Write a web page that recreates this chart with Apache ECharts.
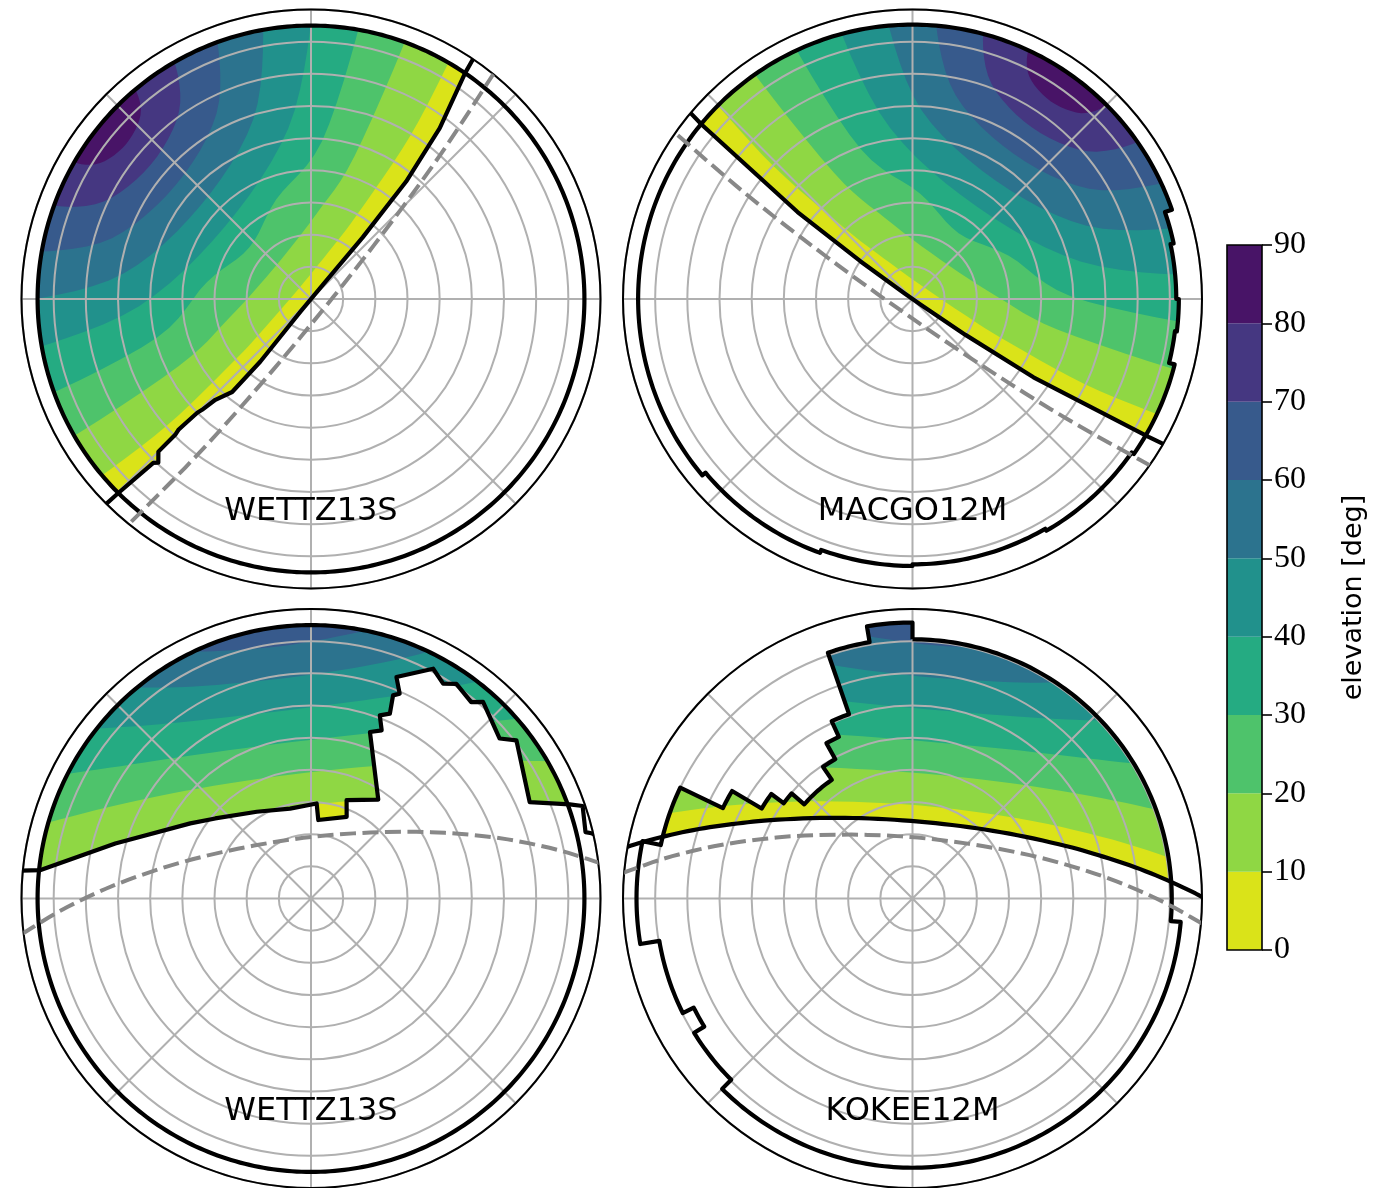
<!DOCTYPE html>
<html>
<head>
<meta charset="utf-8">
<title>Common visibility sky plots</title>
<script src="https://cdn.jsdelivr.net/npm/echarts@6/dist/echarts.min.js"></script>
<style>
html,body{margin:0;padding:0;background:#fff;}
#chart{width:1395px;height:1188px;}
</style>
</head>
<body>
<div id="chart"></div>
<script>
// ---------------- levels / colours (elevation at the partner station, deg) ----------------
const levels = [0, 10, 20, 30, 40, 50, 60, 70, 80, 90];
const levelColors = ['#dae319','#8fd744','#4ec36b','#25ab82','#21918c','#2c738e','#375a8c','#453781','#481467'];
const colorbarTicks = [0, 10, 20, 30, 40, 50, 60, 70, 80, 90];
const stationNames = ['WETTZ13S', 'MACGO12M', 'WETTZ13S', 'KOKEE12M'];

// All points below are [azimuth (deg, clockwise from N), zenith distance (deg)]

// ---------------- panel TL : WETTZ13S sky, partner MACGO12M ----------------
const ownMaskTL = [[0,85],[360,85]];
const edgeTL = [[34,90.5],[34.3,85],[37,66.5],[39,47],[40,25],[40,6],[220,5],[219,25],[220.3,37.9],[223.5,43.2],[224.5,48.3],[225,50],[225.4,57.9],[225,59.7],[225,67.1],[223,69.6],[223.9,70.7],[224.8,85],[225,90.5]];
const dashTL = [[39,90.5],[41.9,60.1],[47.6,30.4],[129,5],[210.4,30.4],[216.1,60.1],[219,90.5]];
const regionTL = [[34.3,85],[37,66.5],[39,47],[40,25],[40,6],[220,5],[219,25],[220.3,37.9],[223.5,43.2],[224.5,48.3],[225,50],[225.4,57.9],[225,59.7],[225,67.1],[223,69.6],[223.9,70.7],[224.8,85],[394.3,85]];
const contoursTL = {
  10: [[389.6,94],[390,89.1],[391.3,59.6],[388.7,30.1],[380.5,15.7],[310,5],[239.5,15.7],[231.3,30.1],[228.7,59.6],[230,89.1],[230.4,94]],
  20: [[379,97.6],[380.1,88.3],[376.9,46.2],[363.6,26.5],[310,15],[256.4,26.5],[243.1,46.2],[239.9,88.3],[241,97.6]],
  30: [[369.1,96.1],[370.1,87.5],[364,49.2],[340.8,32.8],[310,25],[279.2,32.8],[256,49.2],[249.9,87.5],[250.9,96.1]],
  40: [[359.2,94.4],[360.1,86.8],[352.4,53.5],[310,35],[267.6,53.5],[259.9,86.8],[260.8,94.4]],
  50: [[349.3,92.5],[350.1,86.2],[342.2,58.7],[310,45],[277.8,58.7],[269.9,86.2],[270.7,92.5]],
  60: [[338.9,93.1],[340.1,85.7],[333,64.7],[310,55],[287,64.7],[279.9,85.7],[281.1,93.1]],
  70: [[328.8,92],[330.1,85.3],[324.8,71.2],[310,65],[295.2,71.2],[289.9,85.3],[291.2,92]],
  80: [[318.7,90],[320,85.1],[317.2,78],[310,75],[302.8,78],[300,85.1],[301.3,90]]
};

// ---------------- panel TR : MACGO12M sky, partner WETTZ13S ----------------
const ownMaskTR = [[0,85.3],[71,85.3],[71,83],[78,83],[78,82],[90,82],[90,82.8],[97,82.8],[97,82.2],[104,82.2],[104,84],[125,84],[125,83.2],[150,83.2],[150,82.5],[180,82.5],[180,83],[200,83],[200,84],[230,84],[230,85.3],[360,85.3]];
const edgeTR = [[120,90.5],[120.3,85],[122.9,44.8],[124.1,19.9],[125,3],[305,3.1],[305.9,19.9],[307.1,44.8],[309.6,85],[310,90.5]];
const dashTR = [[125,90.5],[127.9,60.1],[133.6,30.4],[215,5],[296.4,30.4],[302.1,60.1],[305,90.5]];
const regionTR = [[120.3,84],[122.9,44.8],[124.1,19.9],[125,3],[305,3.1],[305.9,19.9],[307.1,44.8],[309.5,85.3],[431,85.3],[431,83],[438,83],[438,82],[450,82],[450,82.8],[457,82.8],[457,82.2],[464,82.2],[464,84],[480.3,84]];
const contoursTR = {
  10: [[114.6,94],[115,89.1],[116.3,59.6],[113.7,30.1],[105.5,15.7],[35,5],[-35.5,15.7],[-43.7,30.1],[-46.3,59.6],[-45,89.1],[-44.6,94]],
  20: [[104,97.6],[105.1,88.3],[101.9,46.2],[88.6,26.5],[35,15],[-18.6,26.5],[-31.9,46.2],[-35.1,88.3],[-34,97.6]],
  30: [[94.1,96.1],[95.1,87.5],[89,49.2],[65.8,32.8],[35,25],[4.2,32.8],[-19,49.2],[-25.1,87.5],[-24.1,96.1]],
  40: [[84.2,94.4],[85.1,86.8],[77.4,53.5],[35,35],[-7.4,53.5],[-15.1,86.8],[-14.2,94.4]],
  50: [[74.3,92.5],[75.1,86.2],[67.2,58.7],[35,45],[2.8,58.7],[-5.1,86.2],[-4.3,92.5]],
  60: [[63.9,93.1],[65.1,85.7],[58,64.7],[35,55],[12,64.7],[4.9,85.7],[6.1,93.1]],
  70: [[53.8,92],[55.1,85.3],[49.8,71.2],[35,65],[20.2,71.2],[14.9,85.3],[16.2,92]],
  80: [[43.7,90],[45,85.1],[42.2,78],[35,75],[27.8,78],[25,85.1],[26.3,90]]
};

// ---------------- panel BL : WETTZ13S sky, partner KOKEE12M ----------------
const ownMaskBL = [[0,85],[360,85]];
const edgeBL = [[275.5,90.5],[276,84.5],[285.7,63.2],[301.9,44.2],[309.9,38.8],[328,31.8],[346.9,28.7],[363.4,29.6],[365.3,24.5],[383.6,27.7],[379.9,32.5],[394.2,37.2],[379.5,54.9],[382.8,56.7],[380.6,60.8],[383.1,62.5],[382,68.1],[383.4,69.4],[381.1,73.8],[388,80.9],[391.6,78.4],[394.1,80.6],[399.2,78.8],[401.2,81.2],[409.7,76.9],[412.4,80.6],[426.2,74.3],[430,85.6],[431.2,89.2],[436.4,87.8],[436.9,89.5],[437.5,91]];
const dashBL = [[443,90.5],[438,75.8],[430.2,57.2],[413.6,35],[353,19],[292.4,35],[275.8,57.2],[268,75.8],[263,90.5]];
const regionBL = [[429.5,85],[426.2,74.3],[412.4,80.6],[409.7,76.9],[401.2,81.2],[399.2,78.8],[394.1,80.6],[391.6,78.4],[388,80.9],[381.1,73.8],[383.4,69.4],[382,68.1],[383.1,62.5],[380.6,60.8],[382.8,56.7],[379.5,54.9],[394.2,37.2],[379.9,32.5],[383.6,27.7],[365.3,24.5],[363.4,29.6],[346.9,28.7],[328,31.8],[309.9,38.8],[301.9,44.2],[285.7,63.2],[276,85],[429.5,85]];
const contoursBL = {
  10: [[433.5,93.2],[431.9,88.6],[428.4,79.4],[419.7,61.5],[401.1,41.4],[353,29],[304.9,41.4],[286.3,61.5],[277.6,79.4],[274.1,88.6],[272.5,93.2]],
  20: [[422.5,92],[419.1,83.2],[410,66.5],[391.6,48.9],[353,39],[314.4,48.9],[296,66.5],[286.9,83.2],[283.5,92]],
  30: [[413,95.2],[409.9,87.2],[401.2,72.1],[384.1,56.9],[353,49],[321.9,56.9],[304.8,72.1],[296.1,87.2],[293,95.2]],
  40: [[402.2,94.8],[399.1,87.8],[390.4,75.2],[377.9,65.3],[353,59],[328.1,65.3],[315.6,75.2],[306.9,87.8],[303.8,94.8]],
  50: [[391.6,95.3],[388.6,89.6],[382.8,81.9],[372.5,73.9],[353,69],[333.5,73.9],[323.2,81.9],[317.4,89.6],[314.4,95.3]],
  60: [[378.7,92.6],[373.7,87],[367.6,82.7],[353,79],[338.4,82.7],[332.3,87],[327.3,92.6]]
};

// ---------------- panel BR : KOKEE12M sky, partner WETTZ13S ----------------
const ownMaskBR = [[0,80.6],[95,80.6],[95,83.7],[225,83.7],[225,79.7],[238.4,79.7],[238.4,76],[243.5,76],[243.5,79.8],[260.5,79.8],[260.5,85.8],[282,85.8],[282,80],[295.5,80],[295.5,65.3],[300.8,65.3],[300.8,54.6],[306.5,54.6],[306.5,49.8],[311,49.8],[311,44.6],[325.8,44.6],[325.8,49.5],[331,49.5],[331,55.2],[335.5,55.2],[335.5,60.6],[341,60.6],[341,80.8],[350.5,80.8],[350.5,85.8],[360,85.8],[360,80.6]];
const edgeBR = [[90.3,91.6],[88.6,86.9],[85.2,77.6],[81.3,68.3],[76.8,59.2],[71.1,50.4],[58.9,38.1],[38.1,28.2],[5,24],[-28.1,28.2],[-48.9,38.1],[-61.1,50.4],[-66.8,59.2],[-71.3,68.3],[-75.2,77.6],[-78.6,86.9],[-80.3,91.6]];
const dashBR = [[95,90.5],[90,75.8],[82.2,57.2],[65.6,35],[5,19],[-55.6,35],[-72.2,57.2],[-80,75.8],[-85,90.5]];
const regionBR = [[86.3,80.6],[85.2,77.6],[81.3,68.3],[76.8,59.2],[71.1,50.4],[58.9,38.1],[38.1,28.2],[5,24],[-28.1,28.2],[-48.9,38.1],[-61.1,50.4],[-66.8,59.2],[-71.3,68.3],[-75.2,77.6],[284.1,80],[295.5,80],[295.5,65.3],[300.8,65.3],[300.8,54.6],[306.5,54.6],[306.5,49.8],[311,49.8],[311,44.6],[325.8,44.6],[325.8,49.5],[331,49.5],[331,55.2],[335.5,55.2],[335.5,60.6],[341,60.6],[341,80.8],[350.5,80.8],[350.5,85.8],[360,85.8],[360,80.6],[446.3,80.6]];
const contoursBR = {
  10: [[85.5,93.2],[83.9,88.6],[80.4,79.4],[71.7,61.5],[53.1,41.4],[5,29],[-43.1,41.4],[-61.7,61.5],[-70.4,79.4],[-73.9,88.6],[-75.5,93.2]],
  20: [[74.5,92],[71.1,83.2],[62,66.5],[43.6,48.9],[5,39],[-33.6,48.9],[-52,66.5],[-61.1,83.2],[-64.5,92]],
  30: [[65,95.2],[61.9,87.2],[53.2,72.1],[36.1,56.9],[5,49],[-26.1,56.9],[-43.2,72.1],[-51.9,87.2],[-55,95.2]],
  40: [[54.2,94.8],[51.1,87.8],[42.4,75.2],[29.9,65.3],[5,59],[-19.9,65.3],[-32.4,75.2],[-41.1,87.8],[-44.2,94.8]],
  50: [[43.6,95.3],[40.6,89.6],[34.8,81.9],[24.5,73.9],[5,69],[-14.5,73.9],[-24.8,81.9],[-30.6,89.6],[-33.6,95.3]],
  60: [[30.7,92.6],[25.7,87],[19.6,82.7],[5,79],[-9.6,82.7],[-15.7,87],[-20.7,92.6]]
};

// ---------------- layout ----------------
const panels = [
  {center:[311,299],    own:ownMaskTL, edge:edgeTL, dash:dashTL, region:regionTL, contours:contoursTL, smoothEdge:false, label:[311,512]},
  {center:[912.5,299],  own:ownMaskTR, edge:edgeTR, dash:dashTR, region:regionTR, contours:contoursTR, smoothEdge:false, label:[912.5,512]},
  {center:[311,898.5],  own:ownMaskBL, edge:edgeBL, dash:dashBL, region:regionBL, contours:contoursBL, smoothEdge:false, label:[311,1112]},
  {center:[912.5,898.5],own:ownMaskBR, edge:edgeBR, dash:dashBR, region:regionBR, contours:contoursBR, smoothEdge:true,  label:[912.5,1112]}
];
const PANEL_R = 289.5;
const OUT = 100;

// ---------------- helpers (drawing through the polar coordinate system) ----------------
function pix(api, p) { return api.coord([p[1], p[0]]); }
function trace(api, pts) {
  const out = [];
  for (let i = 0; i < pts.length; i++) {
    const a = pts[i];
    if (i > 0) {
      const b = pts[i - 1];
      if (a[1] === b[1] && a[0] !== b[0]) {
        const n = Math.max(2, Math.ceil(Math.abs(a[0] - b[0])));
        for (let k = 1; k < n; k++) out.push(pix(api, [b[0] + (a[0] - b[0]) * k / n, a[1]]));
      }
    }
    out.push(pix(api, a));
  }
  return out;
}
function catmull(P, seg) {
  if (P.length < 3) return P.slice();
  const out = [P[0]];
  for (let i = 0; i < P.length - 1; i++) {
    const p0 = P[Math.max(0, i - 1)], p1 = P[i], p2 = P[i + 1], p3 = P[Math.min(P.length - 1, i + 2)];
    for (let t = 1; t <= seg; t++) {
      const s = t / seg, s2 = s * s, s3 = s2 * s;
      const f = (j) => 0.5 * ((2 * p1[j]) + (-p0[j] + p2[j]) * s + (2 * p0[j] - 5 * p1[j] + 4 * p2[j] - p3[j]) * s2 + (-p0[j] + 3 * p1[j] - 3 * p2[j] + p3[j]) * s3);
      out.push([f(0), f(1)]);
    }
  }
  return out;
}
function signedArea(P) {
  let s = 0;
  for (let i = 0; i < P.length; i++) { const a = P[i], b = P[(i + 1) % P.length]; s += a[0] * b[1] - b[0] * a[1]; }
  return s / 2;
}

function fillSeries(pd, idx) {
  return {
    type: 'custom', coordinateSystem: 'polar', polarIndex: idx, clip: true, z: 1, silent: true,
    data: [[0, 0]],
    renderItem: function (params, api) {
      const kids = [];
      kids.push({type: 'polygon', shape: {points: trace(api, [[0, OUT], [360, OUT]])}, style: {fill: levelColors[0]}});
      for (let li = 1; li < levelColors.length; li++) {
        const C = pd.contours[levels[li]];
        if (!C) continue;
        const first = C[0][0], last = C[C.length - 1][0];
        let end = first;
        while (end <= last) end += 360;
        while (end - 360 > last) end -= 360;
        const pts = catmull(C.map(p => pix(api, p)), 6).concat(trace(api, [[last, OUT], [end, OUT]]));
        kids.push({type: 'polygon', shape: {points: pts}, style: {fill: levelColors[li]}});
      }
      const outer = trace(api, [[0, 90.8], [360, 90.8]]);
      let reg = trace(api, pd.region);
      if ((signedArea(outer) > 0) === (signedArea(reg) > 0)) reg = reg.slice().reverse();
      const maskPts = outer.concat([outer[0]], reg, [reg[0]]);
      kids.push({type: 'polygon', shape: {points: maskPts}, style: {fill: '#ffffff'}});
      return {type: 'group', children: kids};
    }
  };
}

function lineSeries(pd, idx) {
  return {
    type: 'custom', coordinateSystem: 'polar', polarIndex: idx, clip: true, z: 5, silent: true,
    data: [[0, 0]],
    renderItem: function (params, api) {
      const kids = [];
      kids.push({type: 'polyline', shape: {points: trace(api, pd.own)},
        style: {stroke: '#000', lineWidth: 4.2, fill: null, lineJoin: 'round'}});
      const e = pd.smoothEdge ? catmull(pd.edge.map(p => pix(api, p)), 6) : trace(api, pd.edge);
      kids.push({type: 'polyline', shape: {points: e},
        style: {stroke: '#000', lineWidth: 4.2, fill: null, lineJoin: 'round'}});
      kids.push({type: 'polyline', shape: {points: catmull(pd.dash.map(p => pix(api, p)), 6)},
        style: {stroke: '#888888', lineWidth: 4, fill: null, lineDash: [16, 6.5]}});
      return {type: 'group', children: kids};
    }
  };
}

// ---------------- option ----------------
const series = [];
panels.forEach((pd, i) => { series.push(fillSeries(pd, i)); });
panels.forEach((pd, i) => { series.push(lineSeries(pd, i)); });
for (let i = 0; i < levelColors.length; i++) {
  series.push({
    type: 'bar', xAxisIndex: 0, yAxisIndex: 0, stack: 'cbar', barWidth: '100%', silent: true,
    data: [levels[i + 1] - levels[i]], itemStyle: {color: levelColors[i]}
  });
}

const option = {
  backgroundColor: '#ffffff',
  animation: false,
  polar: panels.map(pd => ({center: pd.center, radius: PANEL_R})),
  angleAxis: panels.map((pd, i) => ({
    polarIndex: i, type: 'value', min: 0, max: 360, interval: 45, startAngle: 90, clockwise: true, z: 3,
    axisLine: {show: true, lineStyle: {color: '#000', width: 2}},
    axisTick: {show: false}, axisLabel: {show: false},
    splitLine: {show: true, lineStyle: {color: '#b0b0b0', width: 2}}
  })),
  radiusAxis: panels.map((pd, i) => ({
    polarIndex: i, type: 'value', min: 0, max: 90, interval: 10, z: 2,
    axisLine: {show: false}, axisTick: {show: false}, axisLabel: {show: false},
    splitLine: {show: true, lineStyle: {color: '#b0b0b0', width: 2}}
  })),
  grid: [{left: 1227, top: 245, width: 35, height: 705, show: true, borderColor: '#000', borderWidth: 1.6,
    backgroundColor: 'transparent', z: 6}],
  xAxis: [{gridIndex: 0, type: 'category', data: ['elevation'], show: false}],
  yAxis: [{
    gridIndex: 0, type: 'value', min: colorbarTicks[0], max: colorbarTicks[colorbarTicks.length - 1], interval: 10,
    position: 'right',
    axisLine: {show: false},
    axisTick: {show: true, length: 10, lineStyle: {color: '#000', width: 1.6}},
    axisLabel: {show: true, margin: 12, color: '#000', fontFamily: 'Liberation Serif', fontSize: 32},
    splitLine: {show: false},
    name: 'elevation [deg]', nameLocation: 'middle', nameRotate: 90, nameGap: 78,
    nameTextStyle: {fontFamily: 'DejaVu Sans', fontSize: 27, color: '#000'}
  }],
  graphic: panels.map((pd, i) => ({
    type: 'text', x: pd.label[0], y: pd.label[1], z: 20, silent: true,
    style: {text: stationNames[i], fill: '#000', fontFamily: 'DejaVu Sans', fontSize: 32,
      textAlign: 'center', verticalAlign: 'middle', textVerticalAlign: 'middle'}
  })),
  series: series
};

const chart = echarts.init(document.getElementById('chart'), null, {renderer: 'canvas'});
chart.setOption(option);
</script>
</body>
</html>
